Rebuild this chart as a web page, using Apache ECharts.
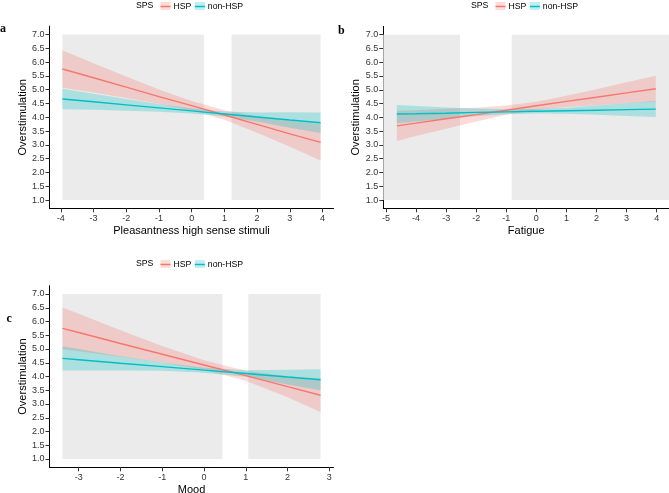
<!DOCTYPE html>
<html>
<head>
<meta charset="utf-8">
<script src="https://cdn.jsdelivr.net/npm/echarts@6/dist/echarts.min.js"></script>
<style>
html,body{margin:0;padding:0;background:#fff;}
#chart{width:669px;height:493px;}
</style>
</head>
<body>
<div id="chart"></div>
<script>
// ---------- data ----------
const seriesNames = ['HSP', 'non-HSP'];
const legendTitle = 'SPS';
const yTitle = 'Overstimulation';
const xTitles = ['Pleasantness high sense stimuli', 'Fatigue', 'Mood'];
const panelLabels = ['a', 'b', 'c'];
const yTicks = [1.0, 1.5, 2.0, 2.5, 3.0, 3.5, 4.0, 4.5, 5.0, 5.5, 6.0, 6.5, 7.0];
const yRange = [0.7, 7.3];
const yShade = [1.0, 7.0];

// panel a
const xTicksA = [-4, -3, -2, -1, 0, 1, 2, 3, 4];
const xRangeA = [-4.344, 4.334];
const xA = [-3.95, -3, -2, -1, 0, 1, 2, 3, 3.94];
const hspFitA = [5.75, 5.43, 5.09, 4.75, 4.42, 4.08, 3.74, 3.40, 3.09];
const hspLoA  = [5.07, 4.90, 4.70, 4.49, 4.25, 3.91, 3.44, 2.93, 2.43];
const hspHiA  = [6.43, 5.96, 5.48, 5.01, 4.59, 4.25, 4.04, 3.87, 3.75];
const nonFitA = [4.66, 4.56, 4.45, 4.34, 4.23, 4.12, 4.01, 3.90, 3.80];
const nonLoA  = [4.29, 4.27, 4.24, 4.20, 4.14, 4.03, 3.85, 3.62, 3.43];
const nonHiA  = [5.03, 4.85, 4.66, 4.48, 4.32, 4.21, 4.17, 4.18, 4.17];
const shadeA = [[-3.95, 0.37], [1.22, 3.94]];

// panel b
const xTicksB = [-5, -4, -3, -2, -1, 0, 1, 2, 3, 4];
const xRangeB = [-5.09, 4.41];
const xB = [-4.64, -4, -3, -2, -1, 0, 1, 2, 3, 3.97];
const hspFitB = [3.69, 3.79, 3.95, 4.10, 4.26, 4.42, 4.58, 4.73, 4.89, 5.04];
const hspLoB  = [3.14, 3.32, 3.59, 3.85, 4.09, 4.27, 4.38, 4.44, 4.51, 4.57];
const hspHiB  = [4.24, 4.26, 4.31, 4.35, 4.43, 4.57, 4.78, 5.02, 5.27, 5.51];
const nonFitB = [4.12, 4.13, 4.15, 4.18, 4.20, 4.22, 4.24, 4.26, 4.28, 4.30];
const nonLoB  = [3.79, 3.85, 3.94, 4.04, 4.11, 4.14, 4.13, 4.09, 4.05, 4.01];
const nonHiB  = [4.45, 4.41, 4.36, 4.32, 4.29, 4.30, 4.35, 4.43, 4.51, 4.59];
const shadeB = [[-5.09, -2.54], [-0.82, 4.41]];

// panel c
const xTicksC = [-3, -2, -1, 0, 1, 2, 3];
const xRangeC = [-3.70, 3.10];
const xC = [-3.39, -3, -2, -1, 0, 1, 2, 2.79];
const hspFitC = [5.75, 5.60, 5.20, 4.81, 4.42, 4.03, 3.63, 3.32];
const hspLoC  = [4.99, 4.92, 4.72, 4.51, 4.25, 3.85, 3.25, 2.71];
const hspHiC  = [6.51, 6.28, 5.68, 5.11, 4.59, 4.21, 4.01, 3.93];
const nonFitC = [4.66, 4.61, 4.48, 4.36, 4.23, 4.11, 3.98, 3.88];
const nonLoC  = [4.22, 4.22, 4.22, 4.21, 4.14, 3.99, 3.71, 3.50];
const nonHiC  = [5.10, 5.00, 4.74, 4.51, 4.32, 4.23, 4.25, 4.26];
const shadeC = [[-3.39, 0.44], [1.06, 2.79]];

// ---------- styling / layout ----------
const SANS = 'Liberation Sans, Arial, sans-serif';
const SERIF = 'Liberation Serif, Times New Roman, serif';
const COLORS = ['#F8766D', '#00BFC4'];
const BANDS = ['rgba(248,118,109,0.27)', 'rgba(0,191,196,0.27)'];
const KEYFILL = ['rgba(248,118,109,0.25)', 'rgba(0,191,196,0.25)'];
const SHADE = '#EBEBEB';
const LINE_ICON = 'path://M0,0H0.01V0.01H0Z M0,3.3H10V4.7H0Z M9.99,7.99H10V8H9.99Z';

const panels = [
  { grid: {left: 49.5, top: 26.2, width: 284, height: 182.1},
    xr: xRangeA, xt: xTicksA, xs: xA, shade: shadeA,
    fits: [hspFitA, nonFitA], los: [hspLoA, nonLoA], his: [hspHiA, nonHiA],
    legend: {sps: 136, left: 160.5, cy: 6}, label: {x: 0, y: 34.5} },
  { grid: {left: 383.3, top: 26.4, width: 285.7, height: 181.9},
    xr: xRangeB, xt: xTicksB, xs: xB, shade: shadeB,
    fits: [hspFitB, nonFitB], los: [hspLoB, nonLoB], his: [hspHiB, nonHiB],
    legend: {sps: 471, left: 495.5, cy: 6}, label: {x: 338, y: 36.8} },
  { grid: {left: 49.5, top: 285.75, width: 284, height: 181.5},
    xr: xRangeC, xt: xTicksC, xs: xC, shade: shadeC,
    fits: [hspFitC, nonFitC], los: [hspLoC, nonLoC], his: [hspHiC, nonHiC],
    legend: {sps: 136, left: 160.5, cy: 264}, label: {x: 6.5, y: 324.5} }
];

const LEG_FONT = 8.7, KEY_W = 10, KEY_H = 8, ITEM_GAP = 3.5;
const measure = (() => {
  const c = document.createElement('canvas').getContext('2d');
  c.font = LEG_FONT + 'px ' + SANS;
  return t => c.measureText(t).width;
})();

const grids = [], xAxes = [], yAxes = [], series = [], legends = [], graphics = [];

panels.forEach((p, i) => {
  grids.push(Object.assign({containLabel: false, outerBoundsMode: 'none'}, p.grid));
  xAxes.push({
    type: 'value', gridIndex: i, min: p.xr[0], max: p.xr[1],
    name: xTitles[i], nameLocation: 'middle', nameGap: 17.5,
    nameTextStyle: {fontFamily: SANS, fontSize: 11, color: '#000'},
    axisLine: {show: true, onZero: false, lineStyle: {color: '#000', width: 1}},
    axisTick: {show: true, customValues: p.xt, length: 4, lineStyle: {color: '#333', width: 1}},
    axisLabel: {customValues: p.xt, margin: 6, fontFamily: SANS, fontSize: 9, color: '#333',
                formatter: v => String(v)},
    splitLine: {show: false}
  });
  yAxes.push({
    type: 'value', gridIndex: i, min: yRange[0], max: yRange[1],
    name: yTitle, nameLocation: 'middle', nameGap: 20.5, nameRotate: 90,
    nameTextStyle: {fontFamily: SANS, fontSize: 11, color: '#000'},
    axisLine: {show: true, onZero: false, lineStyle: {color: '#000', width: 1}},
    axisTick: {show: true, customValues: yTicks, length: 4, lineStyle: {color: '#333', width: 1}},
    axisLabel: {customValues: yTicks, margin: 5, fontFamily: SANS, fontSize: 9, color: '#333',
                formatter: v => v.toFixed(1)},
    splitLine: {show: false}
  });

  // shaded Johnson-Neyman regions
  series.push({
    type: 'custom', name: 'shade' + i, xAxisIndex: i, yAxisIndex: i, z: 1, silent: true,
    data: p.shade.map(r => [r[0], r[1], yShade[0], yShade[1]]),
    encode: {x: [0, 1], y: [2, 3]},
    renderItem: (params, api) => {
      const a = api.coord([api.value(0), api.value(3)]);
      const b = api.coord([api.value(1), api.value(2)]);
      return {type: 'rect', shape: {x: a[0], y: a[1], width: b[0] - a[0], height: b[1] - a[1]},
              style: {fill: SHADE}};
    }
  });

  // confidence bands
  [0, 1].forEach(k => {
    const xs = p.xs, lo = p.los[k], hi = p.his[k];
    series.push({
      type: 'custom', name: seriesNames[k] + ' band ' + i, xAxisIndex: i, yAxisIndex: i,
      z: 2, silent: true,
      data: xs.map((x, j) => [x, lo[j], hi[j]]),
      encode: {x: 0, y: [1, 2]},
      renderItem: (params, api) => {
        if (params.dataIndex !== 0) return;
        const pts = [];
        for (let j = 0; j < xs.length; j++) pts.push(api.coord([xs[j], hi[j]]));
        for (let j = xs.length - 1; j >= 0; j--) pts.push(api.coord([xs[j], lo[j]]));
        return {type: 'polygon', shape: {points: pts}, style: {fill: BANDS[k]}};
      }
    });
  });

  // fitted lines
  [0, 1].forEach(k => {
    series.push({
      type: 'line', name: seriesNames[k], xAxisIndex: i, yAxisIndex: i, z: 3,
      symbol: 'none', showSymbol: false, silent: true,
      data: p.xs.map((x, j) => [x, p.fits[k][j]]),
      lineStyle: {color: COLORS[k], width: 1.4}, itemStyle: {color: COLORS[k]}
    });
  });

  // legend
  const L = p.legend;
  legends.push({
    left: L.left, top: L.cy - KEY_H / 2, padding: 0, orient: 'horizontal',
    itemWidth: KEY_W, itemHeight: KEY_H, itemGap: ITEM_GAP, selectedMode: false,
    icon: LINE_ICON,
    itemStyle: {borderWidth: 0},
    data: seriesNames,
    textStyle: {fontFamily: SANS, fontSize: LEG_FONT, color: '#000', padding: [0, 0, 0, -2]}
  });
  // legend key background fills and title
  let xk = L.left;
  seriesNames.forEach((nm, k) => {
    graphics.push({type: 'rect', z: -1, shape: {x: xk, y: L.cy - KEY_H / 2, width: KEY_W, height: KEY_H},
                   style: {fill: KEYFILL[k]}});
    xk += KEY_W + 3 + measure(nm) + ITEM_GAP;
  });
  graphics.push({type: 'text', x: L.sps, y: L.cy,
                 style: {text: legendTitle, font: LEG_FONT + 'px ' + SANS, fill: '#000',
                         textVerticalAlign: 'middle', verticalAlign: 'middle'}});
  graphics.push({type: 'text', x: p.label.x, y: p.label.y,
                 style: {text: panelLabels[i], font: 'bold 12px ' + SERIF, fill: '#000',
                         textVerticalAlign: 'bottom', verticalAlign: 'bottom'}});
});

const chart = echarts.init(document.getElementById('chart'), null, {renderer: 'canvas'});
chart.setOption({
  animation: false,
  backgroundColor: '#fff',
  grid: grids, xAxis: xAxes, yAxis: yAxes, series: series,
  legend: legends, graphic: graphics
});
</script>
</body>
</html>
